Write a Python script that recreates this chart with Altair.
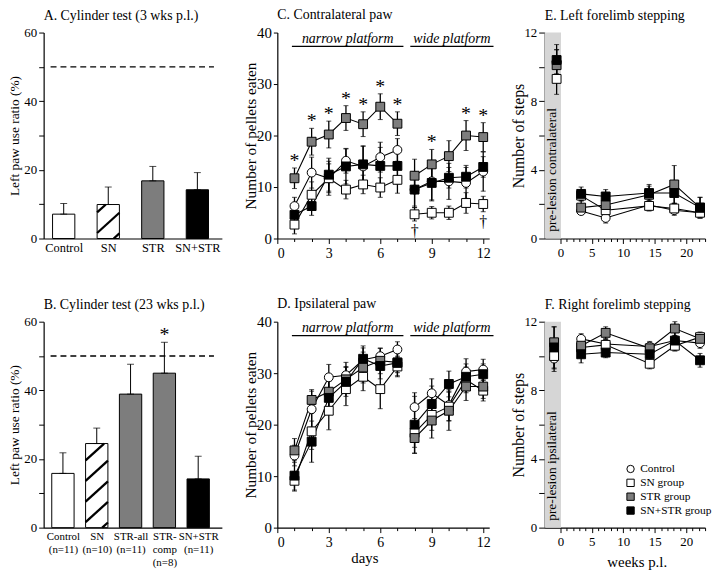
import altair as alt
import pandas as pd

FONT = "Liberation Serif"

# ---------------- shared groups ----------------
groups = ["Control", "SN group", "STR group", "SN+STR group"]
group_fills = ["white", "white", "#7d7d7d", "black"]
group_shapes = ["circle", "square", "square", "square"]
group_strokes = ["black", "black", "black", "black"]

# ---------------- Panel A ----------------
a_labels = ["Control", "SN", "STR", "SN+STR"]
a_values = [7.1, 9.9, 16.8, 14.2]
a_errors = [3.1, 5.1, 4.2, 5.0]
a_kinds = ["open", "hatch", "gray", "black"]

# ---------------- Panel B ----------------
b_labels = ["Control|(n=11)", "SN|(n=10)", "STR-all|(n=11)", "STR-|comp|(n=8)", "SN+STR|(n=11)"]
b_values = [15.8, 24.5, 38.9, 45.0, 14.2]
b_errors = [6.0, 4.5, 8.7, 9.0, 6.6]
b_kinds = ["open", "hatch", "gray", "gray", "black"]
b_star = ["", "", "", "*", ""]

ratio_ticks = [0, 10, 20, 30, 40, 50, 60]
chance_level = [50]
kind_domain = ["open", "hatch", "gray", "black"]
kind_range = ["white", "white", "#7d7d7d", "black"]

# ---------------- Panel C (contralateral paw) ----------------
days = [1, 2, 3, 4, 5, 6, 7, 8, 9, 10, 11, 12]
day_phase = ["n"] * 7 + ["w"] * 5
c_control = [6.3, 12.8, 11.7, 15.1, 14.0, 15.8, 17.2, 9.5, 11.1, 11.1, 10.8, 13.0]
c_sn = [2.7, 8.5, 11.7, 9.5, 10.5, 9.9, 11.4, 4.7, 5.0, 5.0, 6.9, 6.7]
c_str = [11.7, 18.8, 20.2, 23.4, 22.2, 25.6, 22.3, 12.2, 14.4, 16.0, 20.0, 19.7]
c_snstr = [4.6, 6.3, 12.4, 14.0, 14.4, 14.1, 14.1, 9.5, 10.8, 11.8, 12.0, 13.9]
c_control_err = [1.7, 3.0, 3.3, 2.4, 4.0, 2.9, 2.2, 3.5, 3.8, 3.5, 3.0, 3.8]
c_sn_err = [1.8, 2.5, 2.8, 1.8, 1.8, 1.9, 2.6, 1.3, 1.2, 1.3, 2.0, 1.5]
c_str_err = [2.0, 2.6, 2.6, 2.4, 2.4, 2.5, 2.3, 3.2, 2.9, 3.0, 2.9, 2.8]
c_snstr_err = [1.5, 1.8, 3.2, 3.4, 3.5, 3.6, 3.5, 3.2, 3.3, 2.0, 2.2, 2.0]
c_star_days = [1, 2, 3, 4, 5, 6, 7, 9, 11, 12]
c_dagger_days = [8, 12]

# ---------------- Panel D (ipsilateral paw) ----------------
d_control = [14.0, 23.0, 29.2, 29.6, 32.6, 33.3, 34.6, 23.4, 26.1, 23.8, 30.3, 30.7]
d_sn = [9.1, 18.7, 22.7, 26.9, 29.3, 26.9, 31.3, 18.4, 21.9, 23.5, 28.7, 26.6]
d_str = [15.0, 24.8, 26.4, 28.8, 31.1, 32.4, 32.1, 17.4, 20.8, 22.7, 27.4, 27.4]
d_snstr = [10.1, 16.7, 25.2, 28.3, 32.8, 31.4, 32.0, 20.0, 24.0, 27.9, 29.3, 29.8]
d_control_err = [2.0, 3.5, 2.5, 2.5, 2.3, 1.5, 1.5, 2.8, 2.8, 3.0, 2.5, 2.0]
d_sn_err = [1.8, 3.5, 3.7, 3.2, 2.7, 3.8, 2.0, 2.8, 3.0, 2.8, 2.5, 2.0]
d_str_err = [2.3, 2.0, 3.0, 2.5, 3.0, 2.5, 2.0, 3.0, 3.4, 3.8, 2.7, 2.3]
d_snstr_err = [3.0, 4.0, 3.2, 2.8, 2.5, 2.5, 2.5, 5.5, 3.5, 2.5, 2.5, 2.0]

platform_names = ["narrow platform", "wide platform"]
platform_from = [0.85, 7.75]
platform_to = [7.35, 12.6]

# ---------------- Panel E (left forelimb stepping) ----------------
e_weeks = [-0.6, 3.3, 7.2, 14.1, 18.1, 22.2]
week_phase = ["pre", "post", "post", "post", "post", "post"]
e_control = [10.3, 1.6, 1.2, 1.95, 1.65, 1.5]
e_sn = [9.3, 2.5, 1.65, 1.9, 1.75, 1.5]
e_str = [10.1, 1.8, 1.95, 2.55, 3.15, 1.8]
e_snstr = [10.4, 2.6, 2.45, 2.65, 2.65, 1.8]
e_control_err = [0.7, 0.15, 0.3, 0.3, 0.3, 0.3]
e_sn_err = [0.9, 0.3, 0.4, 0.3, 0.3, 0.3]
e_str_err = [0.9, 0.4, 0.5, 0.5, 1.1, 0.6]
e_snstr_err = [0.9, 0.4, 0.4, 0.5, 0.6, 0.6]

# ---------------- Panel F (right forelimb stepping) ----------------
f_weeks = [-1.0, 3.3, 7.2, 14.2, 18.2, 22.2]
f_control = [9.85, 11.0, 10.7, 10.55, 10.9, 10.75]
f_sn = [10.0, 10.5, 10.65, 9.55, 10.6, 11.1]
f_str = [10.8, 10.6, 11.35, 10.45, 11.6, 11.0]
f_snstr = [10.5, 10.1, 10.2, 10.1, 10.9, 9.75]
f_control_err = [0.6, 0.3, 0.3, 0.3, 0.3, 0.3]
f_sn_err = [0.9, 0.4, 0.3, 0.3, 0.3, 0.3]
f_str_err = [0.9, 0.4, 0.35, 0.3, 0.4, 0.3]
f_snstr_err = [1.2, 0.5, 0.3, 0.3, 0.6, 0.4]

step_ticks = [0, 2, 4, 6, 8, 10, 12]
week_ticks = list(range(0, 24))
day_ticks = list(range(0, 13))
pellet_ticks = [0, 10, 20, 30, 40]

PH = 208
ROWGAP = 84
W1, W2, W3, GAP = 180, 214, 162, 56


def title_of(text):
    return alt.TitleParams(text, anchor="start", frame="group", fontSize=14,
                           font=FONT, fontWeight="normal", offset=4, color="black")


def tick_len(every):
    return {"condition": {"test": f"datum.value % {every} == 0", "value": 5}, "value": 3}


def hatch_segments(xc, half, value, rise=5.9, step=6.0):
    segs = []
    c = -rise + 1.5
    while c < value:
        t0 = max(0.0, -c / rise)
        t1 = min(1.0, (value - c) / rise)
        if t1 > t0:
            segs.append({"hx": xc - half + 2 * half * t0, "hy": c + rise * t0,
                         "hx2": xc - half + 2 * half * t1, "hy2": c + rise * t1})
        c += step
    return segs


def bar_panel(title, labels, values, errors, kinds, domain, half, width, label_size, stars=None):
    n = len(labels)
    idx = list(range(1, n + 1))
    df = pd.DataFrame({"idx": idx, "value": values, "err": errors, "kind": kinds})
    df["x0"] = df["idx"] - half
    df["x1"] = df["idx"] + half
    df["top"] = df["value"] + df["err"]
    df["star"] = stars if stars else [""] * n
    xs = alt.Scale(domain=domain, nice=False, zero=False)
    ys = alt.Scale(domain=[0, 60], nice=False)
    label_list = "[" + ",".join("'" + l + "'" for l in labels) + "]"
    xaxis = alt.Axis(values=idx, labelExpr=f"split({label_list}[datum.value - 1], '|')",
                     tickSize=0, title=None, grid=False, labelFontSize=label_size, labelOverlap=False,
                     labelLineHeight=13, labelPadding=3, labelBaseline="top", labelBound=False)
    yaxis = alt.Axis(values=ratio_ticks, labelExpr="datum.value % 20 == 0 ? datum.label : ''",
                     title="Left paw use ratio (%)", grid=False, tickSize=5, labelPadding=2,
                     labelFontSize=13, titleFontSize=13.5, titlePadding=2)
    base = alt.Chart(df)
    bars = base.mark_bar(stroke="black", strokeWidth=1).encode(
        x=alt.X("x0:Q", scale=xs, axis=xaxis), x2="x1:Q",
        y=alt.Y("value:Q", scale=ys, axis=yaxis), y2=alt.datum(0),
        color=alt.Color("kind:N", scale=alt.Scale(domain=kind_domain, range=kind_range), legend=None))
    segs = []
    for i, k in enumerate(kinds):
        if k == "hatch":
            segs += hatch_segments(idx[i], half, values[i])
    hatch = alt.Chart(pd.DataFrame(segs)).mark_rule(color="black", strokeWidth=2.3).encode(
        x=alt.X("hx:Q", scale=xs, axis=xaxis), x2="hx2:Q",
        y=alt.Y("hy:Q", scale=ys, axis=yaxis), y2="hy2:Q")
    err = base.mark_errorbar(ticks={"size": 7}, color="black").encode(
        x=alt.X("idx:Q", scale=xs, axis=xaxis),
        y=alt.Y("value:Q", scale=ys, axis=yaxis), y2="top:Q")
    dash = alt.Chart(pd.DataFrame({"level": chance_level})).mark_rule(
        strokeDash=[6, 4], strokeWidth=1.4, color="black").encode(
        y=alt.Y("level:Q", scale=ys, axis=yaxis), x=alt.value(7), x2=alt.value(width - 8))
    layers = [bars, hatch, err, dash]
    if stars:
        st = base.mark_text(fontSize=20, baseline="middle", dy=-7, color="black").encode(
            x=alt.X("idx:Q", scale=xs, axis=xaxis),
            y=alt.Y("top:Q", scale=ys, axis=yaxis), text="star:N")
        layers.append(st)
    return alt.layer(*layers).properties(width=width, height=PH, title=title_of(title))


def long_table(xs, phase, values, errors):
    rows = []
    for g, v, e in zip(groups, values, errors):
        for x, ph, y, er in zip(xs, phase, v, e):
            rows.append({"group": g, "x": x, "y": y, "lo": y - er, "hi": y + er, "seg": g + ph})
    return pd.DataFrame(rows)


# legend position, measured from the top-left of panel A's plot area
legend_all = alt.Legend(title=None, orient="none", legendX=587, legendY=PH + ROWGAP + 143,
                        labelFont=FONT, labelFontSize=11.5, symbolSize=55, rowPadding=1,
                        symbolStrokeWidth=1, padding=0, labelOffset=4, labelColor="black")


def series_layers(df, xaxis_enc, yaxis_enc, xs, ys):
    base = alt.Chart(df)
    errb = base.mark_errorbar(ticks={"size": 5}, color="black", rule={"strokeWidth": 1.3}).encode(
        x=alt.X("x:Q", scale=xs, axis=xaxis_enc),
        y=alt.Y("lo:Q", scale=ys, axis=yaxis_enc), y2="hi:Q")
    lines = base.mark_line(color="black", strokeWidth=1.1).encode(
        x=alt.X("x:Q", scale=xs, axis=xaxis_enc),
        y=alt.Y("y:Q", scale=ys, axis=yaxis_enc), detail="seg:N")
    pts = base.mark_point(filled=True, size=80, strokeWidth=1, opacity=1).encode(
        x=alt.X("x:Q", scale=xs, axis=xaxis_enc),
        y=alt.Y("y:Q", scale=ys, axis=yaxis_enc),
        fill=alt.Fill("group:N", scale=alt.Scale(domain=groups, range=group_fills), legend=legend_all),
        stroke=alt.Stroke("group:N", scale=alt.Scale(domain=groups, range=group_strokes), legend=legend_all),
        shape=alt.Shape("group:N", scale=alt.Scale(domain=groups, range=group_shapes), legend=legend_all))
    return [errb, lines, pts]


def pellet_panel(title, values, errors, xtitle=None, marks=False):
    df = long_table(days, day_phase, values, errors)
    xs = alt.Scale(domain=[0, 12.35], nice=False, zero=False)
    ys = alt.Scale(domain=[0, 40], nice=False)
    xaxis = alt.Axis(values=day_ticks, labelExpr="datum.value % 3 == 0 ? datum.label : ''",
                     title=xtitle, grid=False, tickSize=tick_len(3), labelFontSize=14, labelPadding=3,
                     titleFontSize=15, titleFontWeight="normal", titlePadding=1, titleX=88)
    yaxis = alt.Axis(values=pellet_ticks, title="Number of pellets eaten", grid=False, tickSize=4,
                     labelPadding=2, labelFontSize=15, titleFontSize=15.5, titlePadding=-2)
    layers = series_layers(df, xaxis, yaxis, xs, ys)
    pf = pd.DataFrame({"name": platform_names, "x0": platform_from, "x1": platform_to})
    pf["xm"] = (pf["x0"] + pf["x1"]) / 2
    pf["ty"] = 38.8
    pf["ly"] = 37.3
    ptext = alt.Chart(pf).mark_text(fontStyle="italic", fontSize=14, baseline="middle",
                                    color="black").encode(
        x=alt.X("xm:Q", scale=xs, axis=xaxis), y=alt.Y("ty:Q", scale=ys, axis=yaxis), text="name:N")
    pline = alt.Chart(pf).mark_rule(strokeWidth=1.3, color="black").encode(
        x=alt.X("x0:Q", scale=xs, axis=xaxis), x2="x1:Q", y=alt.Y("ly:Q", scale=ys, axis=yaxis))
    layers += [ptext, pline]
    if marks:
        sdf = pd.DataFrame({"x": c_star_days,
                            "y": [c_str[d - 1] + c_str_err[d - 1] for d in c_star_days],
                            "t": ["*"] * len(c_star_days)})
        ddf = pd.DataFrame({"x": c_dagger_days,
                            "y": [c_sn[d - 1] - c_sn_err[d - 1] for d in c_dagger_days],
                            "t": ["\u2020"] * len(c_dagger_days)})
        stars = alt.Chart(sdf).mark_text(fontSize=20, baseline="middle", dy=-7, color="black").encode(
            x=alt.X("x:Q", scale=xs, axis=xaxis), y=alt.Y("y:Q", scale=ys, axis=yaxis), text="t:N")
        dags = alt.Chart(ddf).mark_text(fontSize=16, baseline="middle", dy=10, color="black").encode(
            x=alt.X("x:Q", scale=xs, axis=xaxis), y=alt.Y("y:Q", scale=ys, axis=yaxis), text="t:N")
        layers += [stars, dags]
    return alt.layer(*layers).properties(width=W2, height=PH, title=title_of(title))


def step_panel(title, weeks, values, errors, pre_text, xtitle=None):
    df = long_table(weeks, week_phase, values, errors)
    xs = alt.Scale(domain=[-2.5, 23], nice=False, zero=False)
    ys = alt.Scale(domain=[0, 12], nice=False)
    xaxis = alt.Axis(values=week_ticks, labelExpr="datum.value % 5 == 0 ? datum.label : ''",
                     title=xtitle, grid=False, tickSize=tick_len(5), labelFontSize=13, labelPadding=3,
                     titleFontSize=15, titleFontWeight="normal", titlePadding=6, titleX=93)
    yaxis = alt.Axis(values=step_ticks, labelExpr="datum.value % 4 == 0 ? datum.label : ''",
                     title="Number of steps", grid=False, tickSize=6, labelPadding=2,
                     labelFontSize=13, titleFontSize=16, titlePadding=-3)
    band = alt.Chart(pd.DataFrame({"b0": [-2.5], "b1": [0.1]})).mark_rect(color="#d6d6d6").encode(
        x=alt.X("b0:Q", scale=xs, axis=xaxis), x2="b1:Q", y=alt.value(0), y2=alt.value(PH))
    btext = alt.Chart(pd.DataFrame({"t": [pre_text], "tx": [-1.25], "ty": [0.4]})).mark_text(
        angle=270, align="left", baseline="middle", fontSize=13.5, color="black").encode(
        x=alt.X("tx:Q", scale=xs, axis=xaxis), y=alt.Y("ty:Q", scale=ys, axis=yaxis), text="t:N")
    layers = [band, btext] + series_layers(df, xaxis, yaxis, xs, ys)
    return alt.layer(*layers).properties(width=W3, height=PH, title=title_of(title))


A = bar_panel("A. Cylinder test (3 wks p.l.)", a_labels, a_values, a_errors, a_kinds,
              [0.55, 4.55], 0.25, W1, 12.5)
B = bar_panel("B. Cylinder test (23 wks p.l.)", b_labels, b_values, b_errors, b_kinds,
              [0.43, 5.7], 0.33, W1, 11, stars=b_star)
C = pellet_panel("C. Contralateral paw", [c_control, c_sn, c_str, c_snstr],
                 [c_control_err, c_sn_err, c_str_err, c_snstr_err], marks=True)
D = pellet_panel("D. Ipsilateral paw", [d_control, d_sn, d_str, d_snstr],
                 [d_control_err, d_sn_err, d_str_err, d_snstr_err], xtitle="days")
E = step_panel("E. Left forelimb stepping", e_weeks, [e_control, e_sn, e_str, e_snstr],
               [e_control_err, e_sn_err, e_str_err, e_snstr_err], "pre-lesion contralateral")
F = step_panel("F. Right forelimb stepping", f_weeks, [f_control, f_sn, f_str, f_snstr],
               [f_control_err, f_sn_err, f_str_err, f_snstr_err], "pre-lesion ipsilateral",
               xtitle="weeks p.l.")

chart = alt.concat(A, C, E, B, D, F, columns=3, spacing={"row": ROWGAP, "column": GAP},
                   bounds="flush").properties(
    padding={"left": 0, "top": -3, "right": 0, "bottom": 0}
).configure_view(stroke=None).configure_axis(
    labelFont=FONT, titleFont=FONT, labelColor="black", titleColor="black",
    domainColor="black", tickColor="black", titleFontWeight="normal", domainWidth=1.2
).configure_text(font=FONT).configure_title(font=FONT).configure_legend(labelFont=FONT)

chart.save("out.html", embed_options={"renderer": "svg", "actions": False})
